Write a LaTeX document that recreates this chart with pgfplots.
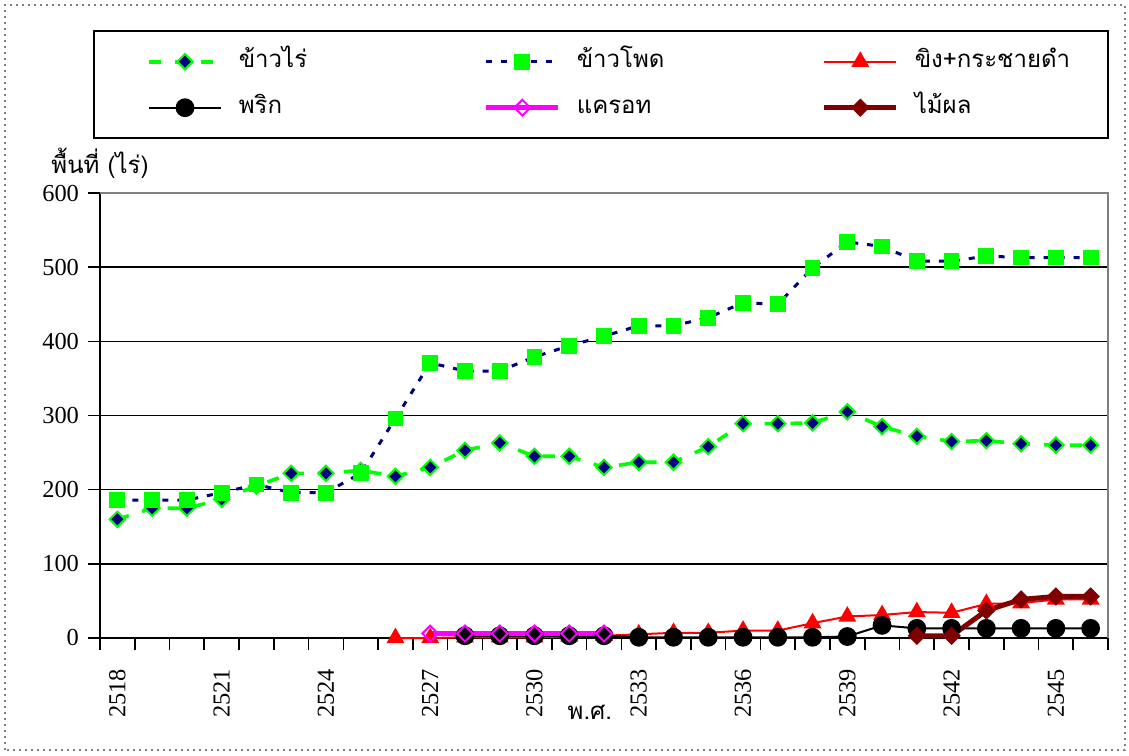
\documentclass[border=0pt]{standalone}
\usepackage{pgfplots}
\pgfplotsset{compat=1.18}
\usepackage{fontspec}
\setmainfont{Liberation Serif}
\newfontfamily\thaifont[Script=Thai]{Loma}
\definecolor{xgreen}{RGB}{0,255,0}
\definecolor{xnavy}{RGB}{0,0,128}
\definecolor{xmaroon}{RGB}{128,0,0}
\definecolor{xmagenta}{RGB}{255,0,255}
\newcommand{\numfont}{\fontsize{12.2}{14}\selectfont}
\newcommand{\thfont}{\thaifont\fontsize{12}{14}\selectfont}

\begin{document}
\begin{tikzpicture}
\path[use as bounding box] (-50pt,-58.5pt) rectangle (514.5pt,319pt);
\draw[gray, dotted, line width=1pt] (-47.5pt,-56pt) rectangle (512.5pt,316.5pt);
\begin{axis}[
    at={(0pt,0pt)}, anchor=south west,
    scale only axis,
    width=504pt, height=222.5pt,
    xmin=2517.5, xmax=2546.5,
    ymin=0, ymax=600,
    clip=false,
    axis x line*=bottom, axis y line*=left,
    x axis line style={-}, y axis line style={-},
    axis line style={black, line width=1.2pt},
    xtick={2518,2521,...,2545},
    minor xtick={2517.5,2518.5,...,2546.5},
    ytick={0,100,...,600},
    tick align=outside,
    major tick length=6pt, minor tick length=6pt,
    every major x tick/.append style={draw=none},
    tick style={black, line width=0.8pt},
    ymajorgrids=true,
    major grid style={black, line width=0.8pt},
    /pgf/number format/assume math mode=true,
    /pgf/number format/1000 sep={},
    xticklabel style={font=\numfont, yshift=-6pt, rotate=90, anchor=east},
    yticklabel style={font=\numfont, xshift=-1pt},
    xlabel={พ.ศ.},
    ylabel={พื้นที่ (ไร่)},
    every axis x label/.style={at={(axis description cs:0.486,-0.166)}, anchor=center, font=\thfont},
    every axis y label/.style={at={(axis description cs:0,1.067)}, anchor=center, font=\thfont},
    legend columns=3,
    legend cell align=left,
    legend image code/.code={\draw[mark repeat=2, mark phase=2] plot coordinates {(0pt,0pt) (18pt,0pt) (36pt,0pt)};},
    legend style={at={(axis description cs:-0.00694,1.3663)}, anchor=north west,
        draw=black, line width=1.2pt, fill=white,
        inner xsep=26.5pt, inner ysep=9.75pt,
        font=\thfont,
        nodes={inner sep=0pt, text height=8.5pt, text depth=2.5pt},
        row sep=12pt,
        /tikz/every odd column/.append style={column sep=8pt},
        /tikz/every even column/.append style={column sep=7.5pt}},
]
% ข้าวไร่
\addplot[xgreen, line width=1.8pt, dash pattern=on 6pt off 7pt, mark=square*, mark size=2.7pt,
    mark options={rotate=45, solid, fill=xnavy, draw=xgreen, line width=1pt}]
    coordinates {(2518,160)(2519,175)(2520,175)(2521,187)(2522,205)(2523,222)(2524,222)(2525,226)(2526,218)(2527,230)(2528,253)(2529,263)(2530,245)(2531,245)(2532,230)(2533,237)(2534,237)(2535,258)(2536,289)(2537,289)(2538,290)(2539,305)(2540,285)(2541,272)(2542,265)(2543,266)(2544,262)(2545,260)(2546,260)};
\addlegendentry{\makebox[115pt][l]{ข้าวไร่}}
% ข้าวโพด
\addplot[xnavy, line width=1.5pt, dash pattern=on 3pt off 4.5pt, mark=square*, mark size=3.7pt,
    mark options={solid, fill=xgreen, draw=xgreen, line width=0pt}]
    coordinates {(2518,186)(2519,186)(2520,186)(2521,196)(2522,207)(2523,196)(2524,196)(2525,222)(2526,296)(2527,371)(2528,360)(2529,360)(2530,379)(2531,394)(2532,407)(2533,421)(2534,421)(2535,432)(2536,452)(2537,450)(2538,499)(2539,534)(2540,528)(2541,508)(2542,508)(2543,515)(2544,513)(2545,513)(2546,513)};
\addlegendentry{\makebox[115pt][l]{ข้าวโพด}}
% ขิง+กระชายดำ
\addplot[red, line width=1pt, mark=triangle*, mark size=4.2pt, mark options={fill=red}]
    coordinates {(2526,0)(2527,0)(2528,1)(2529,1)(2530,1)(2531,2)(2532,3)(2533,5)(2534,7)(2535,7)(2536,10)(2537,10)(2538,20)(2539,29)(2540,31)(2541,35)(2542,34)(2543,46)(2544,47)(2545,52)(2546,52)};
\addlegendentry{\makebox[70pt][l]{ขิง+กระชายดำ}}
% พริก
\addplot[black, line width=1pt, mark=*, mark size=4.2pt]
    coordinates {(2528,3)(2529,3)(2530,3)(2531,3)(2532,3)(2533,1)(2534,1)(2535,1)(2536,1)(2537,1)(2538,1)(2539,2)(2540,17)(2541,13)(2542,13)(2543,13)(2544,13)(2545,13)(2546,13)};
\addlegendentry{\makebox[115pt][l]{พริก}}
% แครอท
\addplot[xmagenta, line width=2.5pt, mark=square, mark size=2.8pt,
    mark options={rotate=45, draw=xmagenta, line width=1pt}]
    coordinates {(2527,6)(2528,6)(2529,6)(2530,6)(2531,6)(2532,6)};
\addlegendentry{\makebox[115pt][l]{แครอท}}
% ไม้ผล
\addplot[xmaroon, line width=2.5pt, mark=square*, mark size=3pt,
    mark options={rotate=45, fill=xmaroon, line width=0.5pt}]
    coordinates {(2541,3)(2542,3)(2543,37)(2544,52)(2545,56)(2546,56)};
\addlegendentry{\makebox[70pt][l]{ไม้ผล}}
\draw[gray, line width=1.2pt] (rel axis cs:0,1) -- (rel axis cs:1,1) -- (rel axis cs:1,0);
\end{axis}
\end{tikzpicture}
\end{document}
